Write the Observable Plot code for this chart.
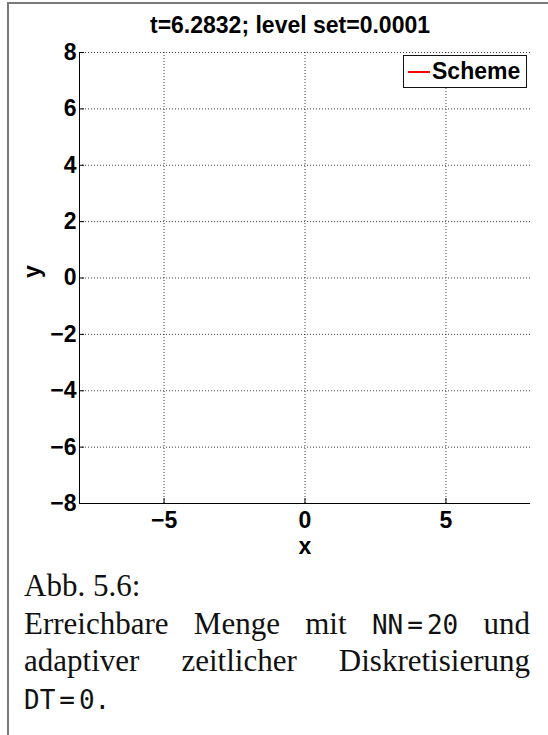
<!DOCTYPE html>
<html>
<head>
<meta charset="utf-8">
<script src="https://cdn.jsdelivr.net/npm/d3@7"></script>
<script src="https://cdn.jsdelivr.net/npm/@observablehq/plot@0.6"></script>
<style>
  html, body { margin: 0; padding: 0; background: #fff; }
  #page { position: relative; width: 548px; height: 735px; overflow: hidden; }
  #frame { position: absolute; left: 7px; top: 2px; right: -4px; bottom: -4px;
           border-left: 2px solid #7a7a7a; border-top: 2px solid #7a7a7a; }
  #chart { position: absolute; left: 0; top: 0; }
  #legend { position: absolute; left: 403px; top: 55px; width: 122px; height: 31px;
            border: 1.5px solid #111; background: #fff; font-family: "Liberation Sans", Arial, sans-serif;
            font-weight: bold; font-size: 23px; display: flex; align-items: center; }
  #legend .swatch { display: inline-block; width: 22px; height: 0; border-top: 2px solid red; margin: 0 2px 0 4px; }
  #caption { position: absolute; left: 24px; top: 567px; width: 506px;
             font-family: "Liberation Serif", "Times New Roman", serif; font-size: 31px; line-height: 37.5px; color: #111; }
  #caption .line { white-space: nowrap; height: 37.5px; }
  #caption .just { white-space: normal; text-align: justify; text-align-last: justify; }
  #caption .tt { font-family: "DejaVu Sans Mono", monospace; font-size: 26px; white-space: nowrap; }
  #caption .tt .op { margin: 0 4px; }
</style>
</head>
<body>
<div id="page">
  <div id="frame"></div>
  <div id="chart"></div>
  <div id="legend"></div>
  <div id="caption"></div>
</div>
<script>
// Axis domain and tick values
const xDomain = [-8, 8];
const yDomain = [-8, 8];
const xTicks = [-5, 0, 5];
const yTicks = [-8, -6, -4, -2, 0, 2, 4, 6, 8];

// Level-set series (empty at this time step)
const seriesNames = ["Scheme"];
const seriesColors = ["red"];
const schemeX = [];
const schemeY = [];

// Text
const titleText = "t=6.2832; level set=0.0001";
const xLabel = "x";
const yLabel = "y";

const fmt = d => (d < 0 ? "\u2212" + Math.abs(d) : String(d));
const font = { fontFamily: "Liberation Sans, Arial, sans-serif", fontWeight: "bold", fontSize: 23 };
const dotted = { stroke: "#000", strokeOpacity: 0.75, strokeDasharray: "1,2", strokeWidth: 1 };

const schemeData = schemeX.map((x, i) => ({ x, y: schemeY[i], s: seriesNames[0] }));

const chart = Plot.plot({
  width: 548,
  height: 560,
  marginLeft: 79,
  marginRight: 18,
  marginTop: 52,
  marginBottom: 57,
  style: { background: "transparent", color: "#000", fontFamily: font.fontFamily },
  x: { domain: xDomain },
  y: { domain: yDomain },
  color: { domain: seriesNames, range: seriesColors },
  marks: [
    Plot.gridX(xTicks, { ...dotted }),
    Plot.gridY(yTicks, { ...dotted }),
    Plot.ruleX([xDomain[0]], { stroke: "#000", strokeWidth: 1 }),
    Plot.ruleY([yDomain[0]], { stroke: "#000", strokeWidth: 1 }),
    // inward tick marks
    Plot.axisX(xTicks, { tickSize: -5, tickFormat: () => "", stroke: "#000", label: null }),
    Plot.axisY(yTicks, { tickSize: -5, tickFormat: () => "", stroke: "#000", label: null }),
    // tick labels
    Plot.axisX(xTicks, { tickSize: 0, tickPadding: 8, tickFormat: fmt, ...font, fill: "#000", label: null }),
    Plot.axisY(yTicks, { tickSize: 0, tickPadding: 3, tickFormat: fmt, ...font, fill: "#000", label: null }),
    Plot.line(schemeData, { x: "x", y: "y", stroke: "s", strokeWidth: 1.5 }),
    Plot.text([titleText], { frameAnchor: "top", dx: -15, dy: -27, text: d => d, ...font, lineAnchor: "middle", fill: "#000" }),
    Plot.text([xLabel], { frameAnchor: "bottom", dy: 43, text: d => d, ...font, lineAnchor: "middle", fill: "#000" }),
    Plot.text([yLabel], { frameAnchor: "left", dx: -47, rotate: -90, text: d => d, ...font, lineAnchor: "middle", fill: "#000" })
  ]
});
document.getElementById("chart").appendChild(chart);

// Legend
const legend = document.getElementById("legend");
seriesNames.forEach((name, i) => {
  const sw = document.createElement("span");
  sw.className = "swatch";
  sw.style.borderTopColor = seriesColors[i];
  const lab = document.createElement("span");
  lab.textContent = name;
  legend.appendChild(sw);
  legend.appendChild(lab);
});

// Figure caption
const captionLines = [
  { html: "Abb. 5.6:", just: false },
  { html: "Erreichbare Menge mit <span class=\"tt\">NN<span class=\"op\">=</span>20</span> und", just: true },
  { html: "adaptiver zeitlicher Diskretisierung", just: true },
  { html: "<span class=\"tt\">DT<span class=\"op\">=</span>0.</span>", just: false }
];
const cap = document.getElementById("caption");
captionLines.forEach(l => {
  const div = document.createElement("div");
  div.className = "line" + (l.just ? " just" : "");
  div.innerHTML = l.html;
  cap.appendChild(div);
});
</script>
</body>
</html>
